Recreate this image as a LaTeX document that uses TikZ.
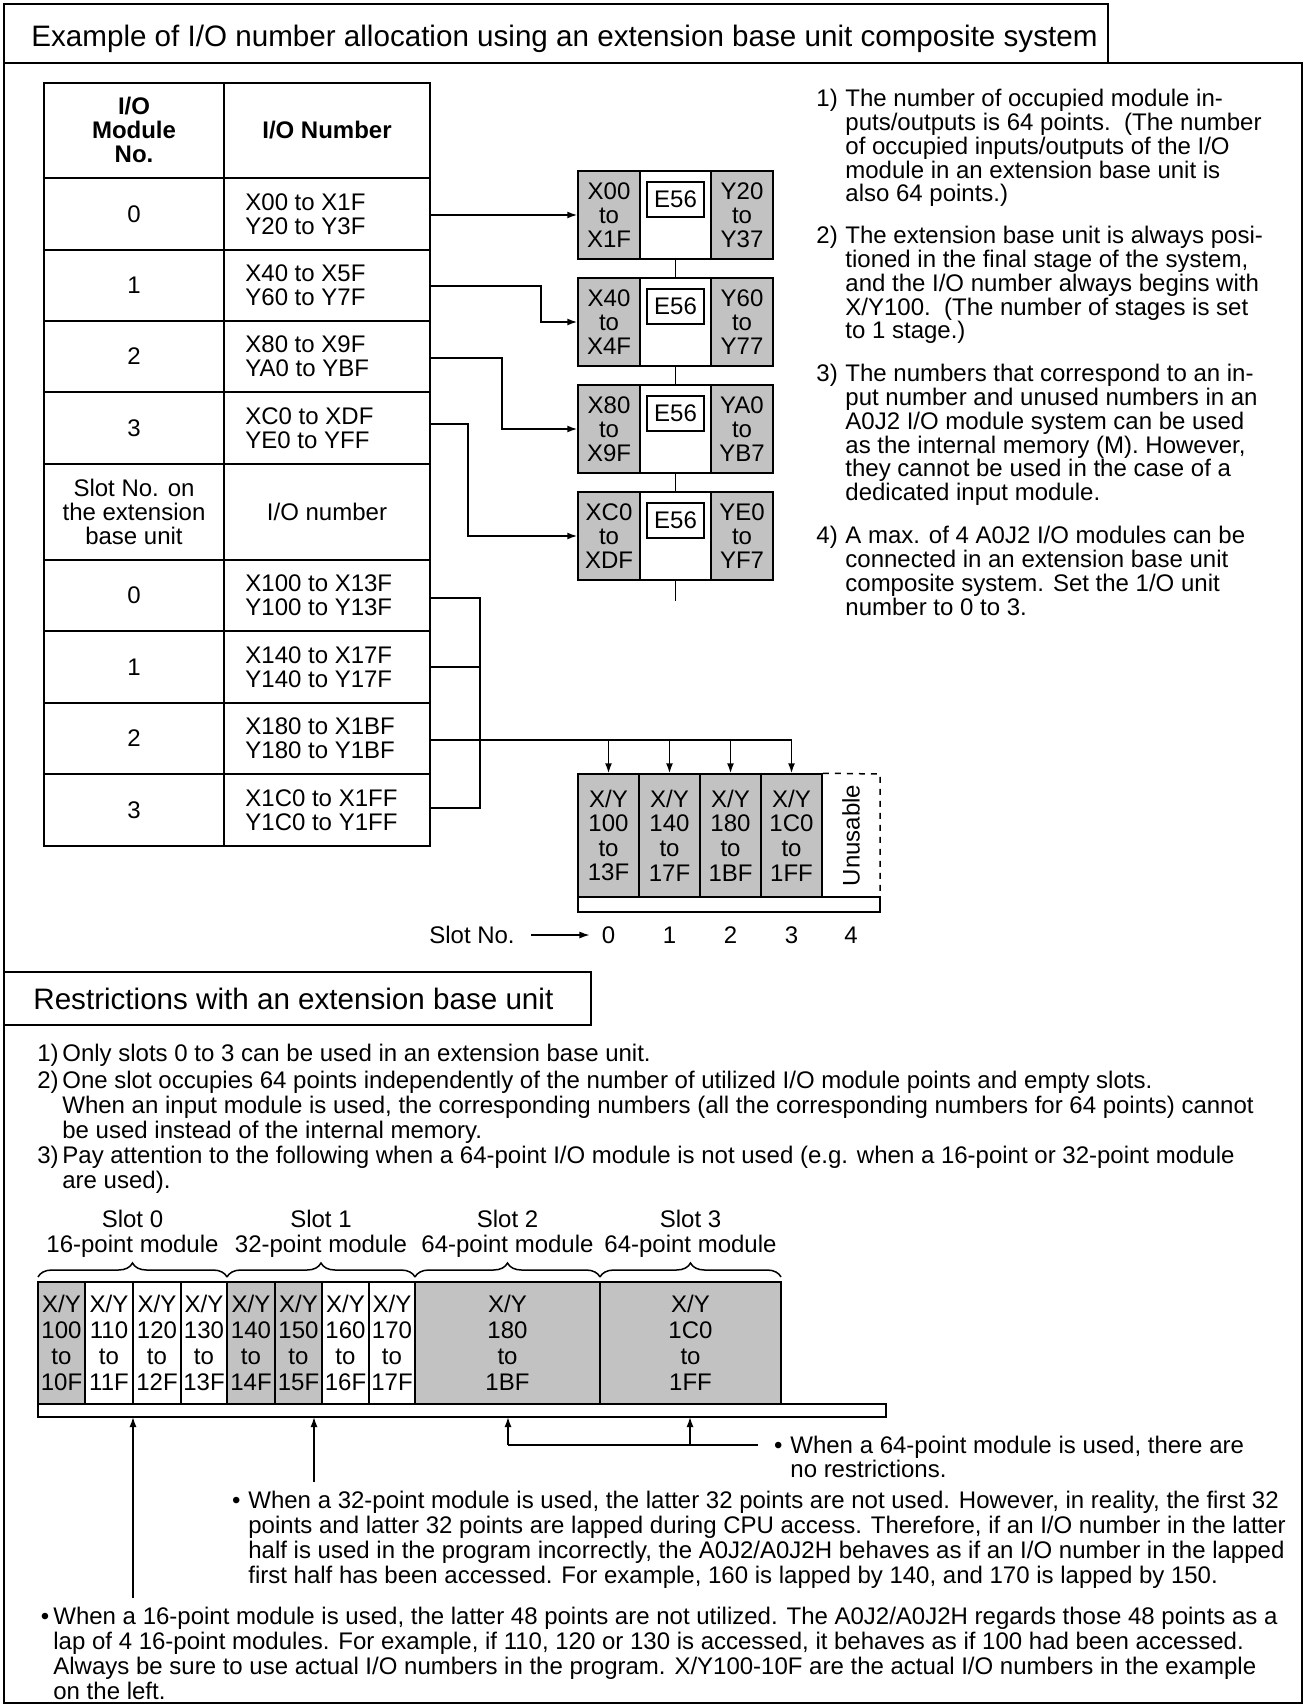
\documentclass[tikz,border=0pt]{standalone}
\usepackage{fontspec}
\setmainfont{Liberation Sans}
\usetikzlibrary{arrows.meta,decorations.pathreplacing}

\definecolor{screen}{gray}{0.76}
\newcommand{\bodysize}{\fontsize{12}{11.9}\selectfont}
\newcommand{\titlesize}{\fontsize{14.8}{18}\selectfont}
\newcommand{\bul}{\llap{\textbullet\hspace{4pt}}}

\tikzset{
  outer/.style={line width=1.2pt},
  cell/.style={line width=1pt},
  wire/.style={line width=0.75pt},
  arr/.style={-{Latex[length=5pt,width=3.5pt]}},
  txt/.style={inner sep=0pt, font=\bodysize},
  para/.style={txt, anchor=north west, align=left},
  xpart/.style={draw, line width=0.75pt, fill=screen, minimum width=31pt,
    minimum height=44pt, inner sep=0pt, align=center, font=\bodysize},
  midpart/.style={draw, line width=0.75pt, fill=white, minimum width=35.5pt,
    minimum height=44pt, inner sep=0pt},
  tagbox/.style={draw, line width=0.75pt, fill=white, minimum width=28.5pt,
    minimum height=17.5pt, inner sep=0pt, font=\bodysize},
  slotbox/.style={draw, line width=0.75pt, fill=screen, minimum width=30.5pt,
    minimum height=61.5pt, inner sep=0pt, align=center,
    font=\fontsize{12}{12.3}\selectfont},
}

\begin{document}
\begin{tikzpicture}[x=0.5pt, y=-0.5pt]
  \useasboundingbox (0,0) rectangle (1306,1706);

  % frame and title tabs
  \draw[outer] (4,63) rectangle (1302,1703);
  \draw[cell] (4,4) rectangle (1108,63);
  \node[txt, font=\titlesize, anchor=west] (title1) at (31,39)
    {Example of I/O number allocation using an extension base unit composite system};

  % I/O number table
  \draw[cell] (44,83) rectangle (430,846);
  \draw[cell] (224,83) -- (224,846);
  \foreach \yy in {178,250,321,392,464,560,631,703,774}
    \draw[cell] (44,\yy) -- (430,\yy);

  \node[txt, font=\bodysize\bfseries, align=center] (hmod) at (134,130) {I/O\\Module\\No.};
  \node[txt, font=\bodysize\bfseries] (hnum) at (327,130) {I/O Number};
  \foreach \i/\yy/\xr/\yr in {0/214/X00 to X1F/Y20 to Y3F, 1/285.5/X40 to X5F/Y60 to Y7F,
      2/356.5/X80 to X9F/YA0 to YBF, 3/428/XC0 to XDF/YE0 to YFF} {
    \node[txt] (mno\i) at (134,\yy) {\i};
    \node[txt, anchor=west, align=left] (mio\i) at (245,\yy) {\xr\\\yr};
  }
  \node[txt, align=center] (hslot) at (134,512) {Slot No. on\\the extension\\base unit};
  \node[txt] (hsio) at (327,512) {I/O number};
  \foreach \i/\yy/\xr/\yr in {0/595.5/X100 to X13F/Y100 to Y13F, 1/667/X140 to X17F/Y140 to Y17F,
      2/738.5/X180 to X1BF/Y180 to Y1BF, 3/810/X1C0 to X1FF/Y1C0 to Y1FF} {
    \node[txt] (sno\i) at (134,\yy) {\i};
    \node[txt, anchor=west, align=left] (sio\i) at (245,\yy) {\xr\\\yr};
  }

  % A0J2 I/O modules
  \foreach \i/\yy/\xa/\xb/\ya/\yb in {0/215/X00/X1F/Y20/Y37, 1/322/X40/X4F/Y60/Y77,
      2/429/X80/X9F/YA0/YB7, 3/536/XC0/XDF/YE0/YF7} {
    \node[midpart] (m\i) at (675.5,\yy) {};
    \node[xpart] (x\i) at (609,\yy) {\xa\\to\\\xb};
    \node[xpart] (y\i) at (742,\yy) {\ya\\to\\\yb};
    \node[tagbox] (e\i) at (675.5,\yy-15.5) {E56};
  }
  \foreach \i/\j in {0/1,1/2,2/3}
    \draw[wire] (m\i.south) -- (m\j.north);
  \coordinate (tail) at (675.5,601);
  \draw[wire] (m3.south) -- (tail);

  \coordinate (o0) at (430,215);
  \coordinate (o1) at (430,286);
  \coordinate (o2) at (430,358);
  \coordinate (o3) at (430,424);
  \draw[wire,arr] (o0) -- (x0.west);
  \draw[wire,arr] (o1) -- ++(111,0) |- (x1.west);
  \draw[wire,arr] (o2) -- ++(72,0) |- (x2.west);
  \draw[wire,arr] (o3) -- ++(38,0) |- (x3.west);

  % extension base unit
  \foreach \i/\xx/\nm/\en in {0/608.5/100/13F, 1/669.5/140/17F, 2/730.5/180/1BF, 3/791.5/1C0/1FF}
    \node[slotbox] (u\i) at (\xx,835.5) {X/Y\\\nm\\to\\\en};
  \coordinate (uu) at (851,835.5);
  \node[txt, rotate=90] (unus) at (uu) {Unusable};
  \draw[wire, dashed] (u3.north east) -- (880,774) -- (880,897);
  \draw[wire] (578,897) rectangle (880,912);

  \coordinate (s0) at (430,598);
  \coordinate (s1) at (430,667);
  \coordinate (s2) at (430,740);
  \coordinate (s3) at (430,808);
  \draw[wire] (s0) -- (480,598) -- (480,808) -- (s3);
  \draw[wire] (s1) -- (480,667);
  \draw[wire] (s2) -- (u3.north |- s2);
  \foreach \i in {0,...,3}
    \draw[wire,arr] (u\i.north |- s2) -- (u\i.north);

  \node[txt] (slotno) at (472,935) {Slot No.};
  \foreach \i in {0,...,3}
    \node[txt] (n\i) at (u\i |- slotno) {\i};
  \node[txt] (n4) at (uu |- slotno) {4};
  \draw[line width=0.6pt, arr] ([xshift=8pt]slotno.east) -- ([xshift=-6pt]n0.west);

  % notes on the right
  \node[para] (lab1) at (816,89) {1)};
  \node[para] (note1) at (845,89) {The number of occupied module in-\\
    puts/outputs is 64 points.\ \ (The number\\of occupied inputs/outputs of the I/O\\
    module in an extension base unit is\\also 64 points.)};
  \node[para] (lab2) at (816,226) {2)};
  \node[para] (note2) at (845,226) {The extension base unit is always posi-\\
    tioned in the final stage of the system,\\and the I/O number always begins with\\
    X/Y100.\ \ (The number of stages is set\\to 1 stage.)};
  \node[para] (lab3) at (816,364) {3)};
  \node[para] (note3) at (845,364) {The numbers that correspond to an in-\\
    put number and unused numbers in an\\A0J2 I/O module system can be used\\
    as the internal memory (M). However,\\they cannot be used in the case of a\\
    dedicated input module.};
  \node[para] (lab4) at (816,526) {4)};
  \node[para] (note4) at (845,526) {A max. of 4 A0J2 I/O modules can be\\
    connected in an extension base unit\\composite system. Set the 1/O unit\\
    number to 0 to 3.};

  % restrictions
  \draw[cell] (4,972) rectangle (591,1025);
  \node[txt, font=\titlesize, anchor=west] (title2) at (33,999) {Restrictions with an extension base unit};

  \node[para] (lab5) at (37,1044) {\raisebox{2pt}{1)}};
  \node[para] (rule1) at (62,1044) {Only slots 0 to 3 can be used in an extension base unit.};
  \node[para] (lab6) at (37,1071) {2)};
  \node[para, font=\fontsize{12}{12.5}\selectfont] (rule2) at (62,1071)
    {One slot occupies 64 points independently of the number of utilized I/O module points and empty slots.\\
     When an input module is used, the corresponding numbers (all the corresponding numbers for 64 points) cannot\\
     be used instead of the internal memory.};
  \node[para] (lab7) at (37,1146) {3)};
  \node[para, font=\fontsize{12}{12.5}\selectfont] (rule3) at (62,1146)
    {Pay attention to the following when a 64-point I/O module is not used (e.g. when a 16-point or 32-point module\\
     are used).};

  \foreach \i/\xx/\pt in {0/132.5/16, 1/321/32, 2/507.5/64, 3/690.5/64}
    \node[txt, align=center, font=\fontsize{12}{12.5}\selectfont] (sl\i) at (\xx,1233.5)
      {Slot \i\\\pt-point module};
  \foreach \a/\b in {38/227, 227/415, 415/600, 600/781}
    \draw[wire, decorate, decoration={brace, amplitude=7pt}] (\a,1277) -- (\b,1277);

  \foreach \a/\b/\c/\nm/\en [count=\k] in {38/85/screen/100/10F, 85/133/white/110/11F,
      133/181/white/120/12F, 181/227/white/130/13F, 227/275/screen/140/14F,
      275/322/screen/150/15F, 322/369/white/160/16F, 369/415/white/170/17F,
      415/600/screen/180/1BF, 600/781/screen/1C0/1FF} {
    \draw[wire, fill=\c] (\a,1282) rectangle (\b,1404);
    \node[txt, align=center, fill=\c, inner sep=0.5pt, font=\fontsize{12}{13}\selectfont]
      (q\k) at ({(\a+\b)/2},1343) {X/Y\\\nm\\to\\\en};
  }
  \draw[wire] (38,1404) rectangle (886,1417);
  \coordinate (sb) at (38,1417);

  \coordinate (a16) at (133,1598);
  \coordinate (a32) at (314,1482);
  \coordinate (a64) at (508,1445);
  \coordinate (b64) at (690,1445);
  \coordinate (e64) at (758,1445);
  \draw[wire, arr] (a16) -- (a16 |- sb);
  \draw[wire, arr] (a32) -- (a32 |- sb);
  \draw[wire] (a64) -- (e64);
  \draw[wire, arr] (a64) -- (a64 |- sb);
  \draw[wire, arr] (b64) -- (b64 |- sb);

  \node[para, font=\fontsize{12}{12}\selectfont] (note64) at (790,1436)
    {\bul When a 64-point module is used, there are\\no restrictions.};
  \node[para, font=\fontsize{12}{12.4}\selectfont] (note32) at (248,1491)
    {\bul When a 32-point module is used, the latter 32 points are not used. However, in reality, the first 32\\
     points and latter 32 points are lapped during CPU access. Therefore, if an I/O number in the latter\\
     half is used in the program incorrectly, the A0J2/A0J2H behaves as if an I/O number in the lapped\\
     first half has been accessed. For example, 160 is lapped by 140, and 170 is lapped by 150.};
  \node[para, font=\fontsize{12}{12.4}\selectfont] (note16) at (53,1607)
    {\llap{\textbullet\hspace{2pt}}When a 16-point module is used, the latter 48 points are not utilized. The A0J2/A0J2H regards those 48 points as a\\
     lap of 4 16-point modules. For example, if 110, 120 or 130 is accessed, it behaves as if 100 had been accessed.\\
     Always be sure to use actual I/O numbers in the program. X/Y100-10F are the actual I/O numbers in the example\\
     on the left.};
\end{tikzpicture}
\end{document}
